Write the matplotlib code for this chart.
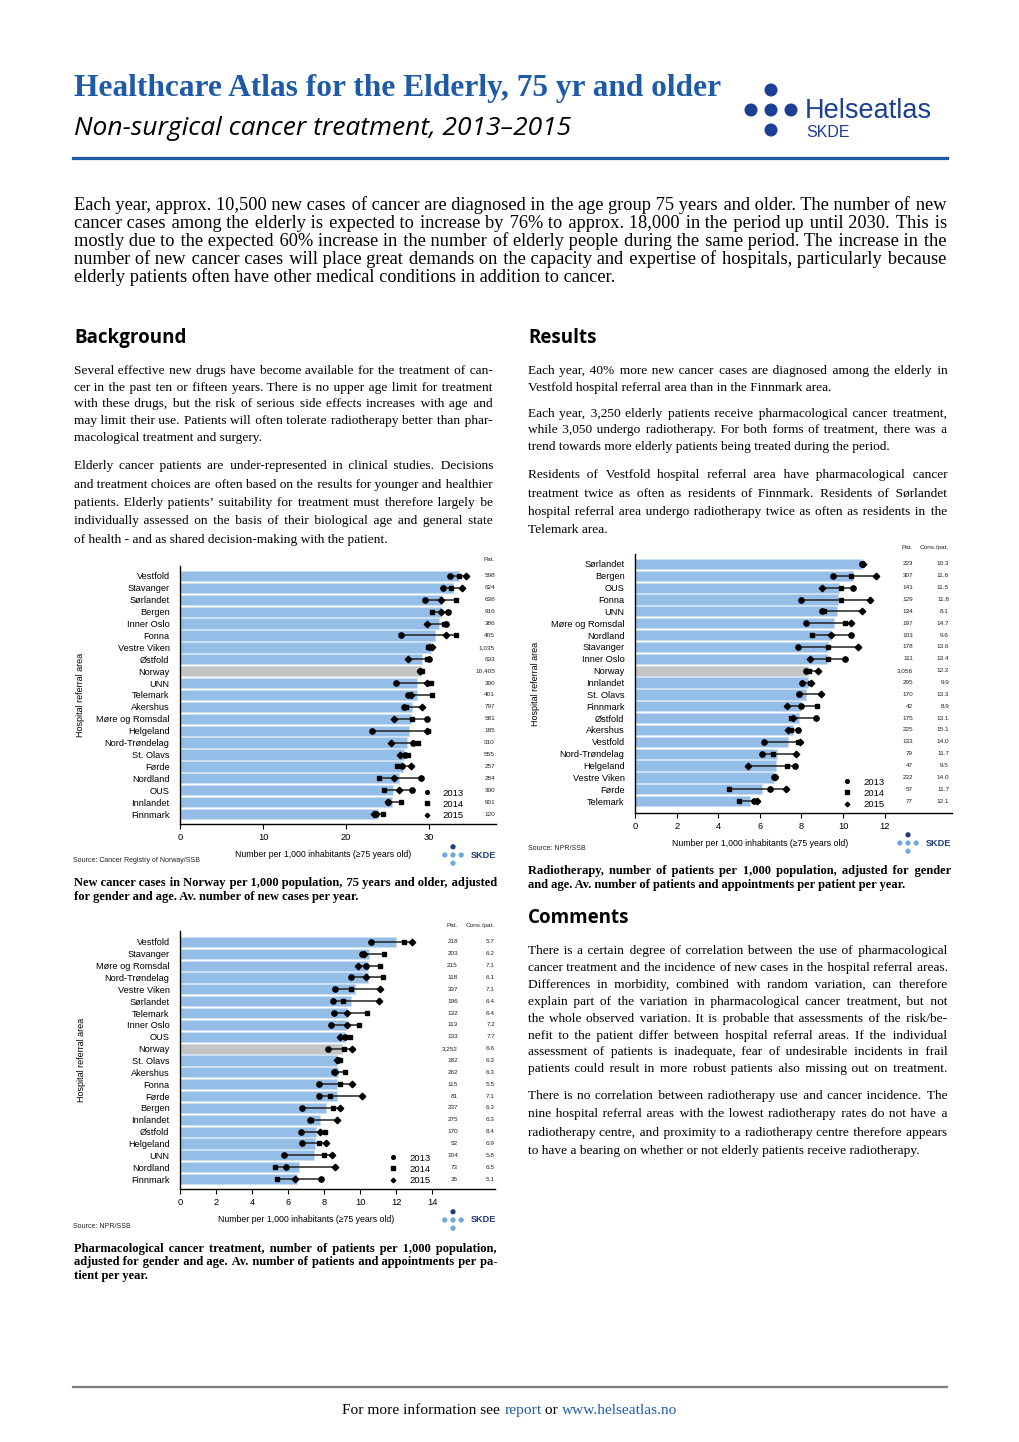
import matplotlib
matplotlib.use('Agg')
import matplotlib.pyplot as plt
import matplotlib.transforms as mtransforms
from matplotlib.patches import Circle
from matplotlib.lines import Line2D

# ---------------- data ----------------
# new cancer cases per 1,000 (75+)
inc_areas = ['Vestfold', 'Stavanger', 'Sørlandet', 'Bergen', 'Inner Oslo', 'Fonna', 'Vestre Viken',
             'Østfold', 'Norway', 'UNN', 'Telemark', 'Akershus', 'Møre og Romsdal', 'Helgeland',
             'Nord-Trøndelag', 'St. Olavs', 'Førde', 'Nordland', 'OUS', 'Innlandet', 'Finnmark']
inc_rate = [33.6, 32.9, 31.6, 31.4, 31.25, 30.7, 30.2, 29.1, 29.0, 28.6, 28.6, 27.9, 27.8, 27.6,
            27.4, 27.0, 26.9, 26.4, 25.7, 25.6, 23.8]
inc_2013 = [32.5, 31.7, 29.5, 32.3, 32.1, 26.6, 30.0, 30.0, 28.9, 26.0, 27.5, 27.0, 29.8, 23.1,
            28.1, 27.1, 26.7, 29.0, 28.0, 25.1, 23.6]
inc_2014 = [33.6, 32.7, 33.3, 30.4, 31.8, 33.3, 29.9, 29.8, 29.2, 30.2, 30.4, 27.2, 27.9, 29.9,
            28.7, 27.5, 26.2, 24.0, 24.6, 26.6, 24.4]
inc_2015 = [34.5, 33.95, 31.5, 31.5, 29.8, 32.1, 30.4, 27.5, 28.9, 29.7, 27.8, 29.2, 25.8, 29.8,
            25.4, 26.5, 27.8, 25.8, 26.4, 25.1, 23.4]
inc_pat = ['598', '624', '636', '916', '386', '405', '1,035', '633', '10,405', '390', '401', '797',
           '581', '185', '310', '555', '257', '284', '390', '901', '120']

# radiotherapy, patients per 1,000
rad_areas = ['Sørlandet', 'Bergen', 'OUS', 'Fonna', 'UNN', 'Møre og Romsdal', 'Nordland', 'Stavanger',
             'Inner Oslo', 'Norway', 'Innlandet', 'St. Olavs', 'Finnmark', 'Østfold', 'Akershus',
             'Vestfold', 'Nord-Trøndelag', 'Helgeland', 'Vestre Viken', 'Førde', 'Telemark']
rad_rate = [10.9, 10.5, 9.8, 9.75, 9.7, 9.55, 9.4, 9.3, 9.25, 8.3, 8.3, 8.2, 8.0, 7.9, 7.6,
            7.35, 6.85, 6.8, 6.7, 6.1, 5.55]
rad_2013 = [10.93, 9.5, 10.5, 8.0, 9.0, 8.2, 10.4, 7.85, 10.1, 8.2, 8.05, 7.9, 8.0, 8.7, 7.85,
            6.2, 6.1, 7.7, 6.7, 6.5, 5.7]
rad_2014 = [10.9, 10.4, 9.9, 9.9, 9.1, 10.1, 8.5, 9.3, 9.3, 8.37, 8.4, 7.9, 8.75, 7.5, 7.5,
            7.85, 6.65, 7.3, 6.72, 4.5, 5.0]
rad_2015 = [10.96, 11.6, 9.0, 11.3, 10.9, 10.4, 9.4, 10.7, 8.4, 8.8, 8.45, 8.95, 7.3, 7.6, 7.35,
            7.95, 7.75, 5.45, 6.75, 7.25, 5.85]
rad_pat = ['223', '307', '141', '129', '134', '197', '103', '178', '111', '3,056', '295', '170',
           '42', '175', '225', '133', '79', '47', '232', '57', '77']
rad_cons = ['10.3', '11.6', '11.5', '11.8', '8.1', '14.7', '9.6', '13.6', '13.4', '12.2', '9.9',
            '13.3', '8.9', '13.1', '15.1', '14.0', '11.7', '9.5', '14.0', '11.7', '12.1']

# pharmacological treatment, patients per 1,000
pha_areas = ['Vestfold', 'Stavanger', 'Møre og Romsdal', 'Nord-Trøndelag', 'Vestre Viken', 'Sørlandet',
             'Telemark', 'Inner Oslo', 'OUS', 'Norway', 'St. Olavs', 'Akershus', 'Fonna', 'Førde',
             'Bergen', 'Innlandet', 'Østfold', 'Helgeland', 'UNN', 'Nordland', 'Finnmark']
pha_rate = [12.0, 10.5, 10.46, 10.46, 9.7, 9.5, 9.26, 9.2, 9.17, 9.0, 8.7, 8.8, 8.7, 8.7,
            8.1, 7.8, 7.55, 7.5, 7.44, 6.6, 6.5]
pha_2013 = [10.6, 10.1, 10.33, 9.5, 8.6, 8.5, 8.57, 8.37, 9.17, 8.24, 8.8, 8.57, 7.7, 7.7,
            6.8, 7.2, 6.7, 6.76, 5.78, 5.9, 7.83]
pha_2014 = [12.46, 11.35, 11.1, 11.3, 9.5, 9.07, 10.4, 9.94, 9.44, 9.1, 8.9, 9.17, 8.9, 8.33,
            8.5, 7.3, 8.07, 7.7, 8.0, 5.28, 5.37]
pha_2015 = [12.9, 10.2, 9.9, 10.33, 11.1, 11.07, 9.28, 9.3, 8.9, 9.54, 8.7, 8.6, 9.54, 10.1,
            8.9, 8.7, 7.8, 8.1, 8.46, 8.6, 6.37]
pha_pat = ['218', '203', '215', '118', '337', '196', '132', '113', '133', '3,252', '182', '262',
           '115', '81', '237', '275', '170', '52', '104', '73', '35']
pha_cons = ['5.7', '6.2', '7.1', '6.1', '7.1', '6.4', '6.4', '7.2', '7.7', '6.6', '6.3', '6.3',
            '5.5', '7.1', '6.3', '6.3', '8.4', '6.9', '5.8', '6.5', '5.1']

years = ['2013', '2014', '2015']

# ---------------- page ----------------
W, H = 1020, 1442
plt.rcParams['font.family'] = 'Liberation Sans'
fig = plt.figure(figsize=(W / 100, H / 100), dpi=100)
px = mtransforms.Affine2D().scale(1.0 / W, -1.0 / H).translate(0, 1) + fig.transFigure
renderer = fig.canvas.get_renderer()

BLUE = '#1f5aa6'
NAVY = '#1b3f92'
SERIF = ['Liberation Serif', 'DejaVu Serif']
HAIR = '\u200a'


def txt(x, y, s, **kw):
    return fig.text(x, y, s, transform=px, **kw)


def width(s, size, weight='normal'):
    t = txt(0, 0, s, fontsize=size, family=SERIF, weight=weight)
    w = t.get_window_extent(renderer).width
    t.remove()
    return w


def fit_size(lines, w_max, size, weight='normal'):
    # largest size (from `size` down) at which every justified line fits the column
    while max(width(l, size, weight) for l in lines) > w_max - 1:
        size -= 0.1
    return size


def paragraph(x0, x1, ys, lines, size, weight='normal', color='black', justify_last=False):
    # justified text: each line stays one string, widened with hair spaces
    hw = (width('x' + HAIR * 20 + 'x', size, weight) - width('xx', size, weight)) / 20
    for i, (y, line) in enumerate(zip(ys, lines)):
        words = line.split()
        s = line
        if (i < len(lines) - 1 or justify_last) and len(words) > 1:
            extra = (x1 - x0) - width(line, size, weight)
            k = max(0, int(round(extra / hw)))
            gaps = len(words) - 1
            s = words[0]
            for j, w in enumerate(words[1:]):
                n = k * (j + 1) // gaps - k * j // gaps
                s += ' ' + HAIR * n + w
        txt(x0, y, s, fontsize=size, family=SERIF, weight=weight, color=color, va='baseline')


def hline(x0, x1, y, color, lw):
    fig.add_artist(Line2D([x0, x1], [y, y], transform=px, color=color, lw=lw))


def dots(cx, cy, r, top_color, other_color, gap):
    for (dx, dy), c in zip([(0, -gap), (-gap, 0), (0, 0), (gap, 0), (0, gap)],
                           [top_color, other_color, other_color, other_color, other_color]):
        fig.add_artist(Circle((cx + dx, cy + dy), r, transform=px, color=c, lw=0))


# header
txt(74, 96, 'Healthcare Atlas for the Elderly, 75 yr and older', fontsize=22.6, family=SERIF,
    weight='bold', color=BLUE, va='baseline')
txt(74, 135, 'Non-surgical cancer treatment, 2013\u20132015', fontsize=19, family='Open Sans',
    style='italic', color='black', va='baseline')
dots(771, 110, 6.5, NAVY, NAVY, 20)
txt(805, 118, 'Helseatlas', fontsize=19.5, color=NAVY, va='baseline')
txt(806, 137, 'SKDE', fontsize=11.5, color=NAVY, va='baseline')
hline(73, 947, 158, BLUE, 2.3)

# intro
intro = ['Each year, approx. 10,500 new cases of cancer are diagnosed in the age group 75 years and older. The number of new',
         'cancer cases among the elderly is expected to increase by 76% to approx. 18,000 in the period up until 2030. This is',
         'mostly due to the expected 60% increase in the number of elderly people during the same period. The increase in the',
         'number of new cancer cases will place great demands on the capacity and expertise of hospitals, particularly because',
         'elderly patients often have other medical conditions in addition to cancer.']
paragraph(74, 947, [210, 228, 246, 264.5, 282.5], intro, fit_size(intro[:-1], 873, 14))

# section headings
for x, y, s in [(74, 343, 'Background'), (528, 343, 'Results'), (528, 923, 'Comments')]:
    txt(x, y, s, fontsize=13.5, family='Open Sans', weight='bold', va='baseline')

bg1 = ['Several effective new drugs have become available for the treatment of can-',
       'cer in the past ten or fifteen years. There is no upper age limit for treatment',
       'with these drugs, but the risk of serious side effects increases with age and',
       'may limit their use. Patients will often tolerate radiotherapy better than phar-',
       'macological treatment and surgery.']
bg2 = ['Elderly cancer patients are under-represented in clinical studies. Decisions',
       'and treatment choices are often based on the results for younger and healthier',
       'patients. Elderly patients\u2019 suitability for treatment must therefore largely be',
       'individually assessed on the basis of their biological age and general state',
       'of health - and as shared decision-making with the patient.']
rs1 = ['Each year, 40% more new cancer cases are diagnosed among the elderly in',
       'Vestfold hospital referral area than in the Finnmark area.']
rs2 = ['Each year, 3,250 elderly patients receive pharmacological cancer treatment,',
       'while 3,050 undergo radiotherapy. For both forms of treatment, there was a',
       'trend towards more elderly patients being treated during the period.']
rs3 = ['Residents of Vestfold hospital referral area have pharmacological cancer',
       'treatment twice as often as residents of Finnmark. Residents of Sørlandet',
       'hospital referral area undergo radiotherapy twice as often as residents in the',
       'Telemark area.']
cm1 = ['There is a certain degree of correlation between the use of pharmacological',
       'cancer treatment and the incidence of new cases in the hospital referral areas.',
       'Differences in morbidity, combined with random variation, can therefore',
       'explain part of the variation in pharmacological cancer treatment, but not',
       'the whole observed variation. It is probable that assessments of the risk/be-',
       'nefit to the patient differ between hospital referral areas. If the individual',
       'assessment of patients is inadequate, fear of undesirable incidents in frail',
       'patients could result in more robust patients also missing out on treatment.']
cm2 = ['There is no correlation between radiotherapy use and cancer incidence. The',
       'nine hospital referral areas with the lowest radiotherapy rates do not have a',
       'radiotherapy centre, and proximity to a radiotherapy centre therefore appears',
       'to have a bearing on whether or not elderly patients receive radiotherapy.']
body = fit_size(bg1[:-1] + bg2[:-1] + rs1[:-1] + rs2[:-1] + rs3[:-1] + cm1 + cm2[:-1], 419.5, 11)

paragraph(74, 493, [374, 390.7, 407.3, 424, 440.7], bg1, body)
paragraph(74, 493, [469.3, 487.7, 506, 524.3, 542.7], bg2, body)
paragraph(528, 947.5, [374, 390.7], rs1, body)
paragraph(528, 947.5, [416.7, 433.3, 450], rs2, body)
paragraph(528, 947.5, [478.3, 496.7, 515, 532.7], rs3, body)
paragraph(528, 947.5, [954, 971, 988, 1005, 1022, 1039, 1055.5, 1072], cm1, body, justify_last=True)
paragraph(528, 947.5, [1099, 1117.5, 1136, 1154], cm2, body)

# captions
cap1 = ['New cancer cases in Norway per 1,000 population, 75 years and older, adjusted',
        'for gender and age. Av. number of new cases per year.']
cap2 = ['Radiotherapy, number of patients per 1,000 population, adjusted for gender',
        'and age. Av. number of patients and appointments per patient per year.']
cap3 = ['Pharmacological cancer treatment, number of patients per 1,000 population,',
        'adjusted for gender and age. Av. number of patients and appointments per pa-',
        'tient per year.']
capsz = fit_size(cap1[:-1] + cap2[:-1] + cap3[:-1], 423, 10, weight='bold')
paragraph(74, 497, [886, 900], cap1, capsz, weight='bold')
paragraph(528, 951, [874, 888], cap2, capsz, weight='bold')
paragraph(74, 497, [1252, 1265.5, 1279], cap3, capsz, weight='bold')

# footer
hline(73, 947, 1387, '#7f7f7f', 1.6)
parts = [('For more information see ', 'black'), ('report', BLUE), (' or ', 'black'),
         ('www.helseatlas.no', BLUE)]
objs = [txt(0, 1414, s, fontsize=11.1, family=SERIF, color=c, va='baseline') for s, c in parts]
ws = [o.get_window_extent(renderer).width for o in objs]
x = 510 - sum(ws) / 2
for o, w in zip(objs, ws):
    o.set_x(x)
    x += w


# ---------------- charts ----------------
def add_ax(l, r, t, b):
    return fig.add_axes([l / W, 1 - b / H, (r - l) / W, (b - t) / H])


def dumbbell(ax, areas, rate, v13, v14, v15, xmax, ticks, ylim, cols, col_x, heads,
             xlabel_x, legend_xy):
    n = len(areas)
    y = list(range(n))
    colors = ['#c4c4c4' if a == 'Norway' else '#94bde7' for a in areas]
    ax.barh(y, rate, height=0.86, color=colors, edgecolor='#cddff3', lw=0.6, zorder=1)
    lo = [min(a, b, c) for a, b, c in zip(v13, v14, v15)]
    hi = [max(a, b, c) for a, b, c in zip(v13, v14, v15)]
    ax.hlines(y, lo, hi, color='#222222', lw=1.1, zorder=3)
    h1, = ax.plot(v13, y, 'o', color='black', ms=3.8, ls='none', zorder=4)
    h2, = ax.plot(v14, y, 's', color='black', ms=3.4, ls='none', zorder=4)
    h3, = ax.plot(v15, y, 'D', color='black', ms=3.3, ls='none', zorder=5)
    ax.legend([h1, h2, h3], years, loc='lower left', bbox_to_anchor=legend_xy, frameon=False,
              fontsize=6.8, handlelength=0.6, handletextpad=1.4, labelspacing=0.22,
              borderaxespad=0, borderpad=0, markerscale=0.7)
    ax.set_xlim(0, xmax)
    ax.set_ylim(*ylim)
    ax.set_yticks(y)
    ax.set_yticklabels(areas, fontsize=6.7)
    ax.tick_params(axis='y', length=0, pad=7.5)
    ax.set_xticks(ticks)
    ax.set_xticklabels([str(t) for t in ticks], fontsize=6.7)
    ax.tick_params(axis='x', length=3.5, width=0.8, pad=3)
    for s in ['top', 'right']:
        ax.spines[s].set_visible(False)
    for s in ['left', 'bottom']:
        ax.spines[s].set_linewidth(1.0)
    ax.set_facecolor('none')
    ax.set_xlabel('Number per 1,000 inhabitants (\u226575 years old)', fontsize=6.3)
    ax.xaxis.set_label_coords(xlabel_x, -0.1)
    ax.set_ylabel('Hospital referral area', fontsize=6.5)
    ax.yaxis.set_label_coords(-0.30, 0.5)
    for vals, cx, hd in zip(cols, col_x, heads):
        for yi, v in zip(y, vals):
            ax.text(cx, yi, v, fontsize=4.6, ha='right', va='center', clip_on=False, color='#222222')
        ax.text(cx, -1.4, hd, fontsize=4.6, ha='right', va='center', clip_on=False, color='#222222')


ax1 = add_ax(180, 496, 566, 824)
dumbbell(ax1, inc_areas, inc_rate, inc_2013, inc_2014, inc_2015, 38.07, [0, 10, 20, 30],
         (20.84, -0.84), [inc_pat], [37.95], ['Pat.'], 0.453, (0.772, 0.016))

ax2 = add_ax(635, 952, 554, 813)
dumbbell(ax2, rad_areas, rad_rate, rad_2013, rad_2014, rad_2015, 15.24, list(range(0, 13, 2)),
         (21.0, -0.84), [rad_pat, rad_cons], [13.37, 15.1], ['Pat.', 'Cons./pat.'], 0.394, (0.66, 0.016))

ax3 = add_ax(180, 495, 931, 1189)
dumbbell(ax3, pha_areas, pha_rate, pha_2013, pha_2014, pha_2015, 17.5, list(range(0, 15, 2)),
         (20.84, -0.92), [pha_pat, pha_cons], [15.44, 17.5], ['Pat.', 'Cons./pat.'], 0.40, (0.667, 0.016))

# sources and small SKDE marks
txt(73, 862, 'Source: Cancer Registry of Norway/SSB', fontsize=5, va='baseline', color='#222222')
txt(528, 850, 'Source: NPR/SSB', fontsize=5, va='baseline', color='#222222')
txt(73, 1228, 'Source: NPR/SSB', fontsize=5, va='baseline', color='#222222')
for cx, cy in [(453, 855), (908, 843), (453, 1220)]:
    dots(cx, cy, 2.6, '#1d3a7a', '#6fa8e0', 8.2)
    txt(cx + 18, cy, 'SKDE', fontsize=6.6, weight='bold', color='#1d3a7a', va='center')

fig.savefig('out.png', dpi=100)
